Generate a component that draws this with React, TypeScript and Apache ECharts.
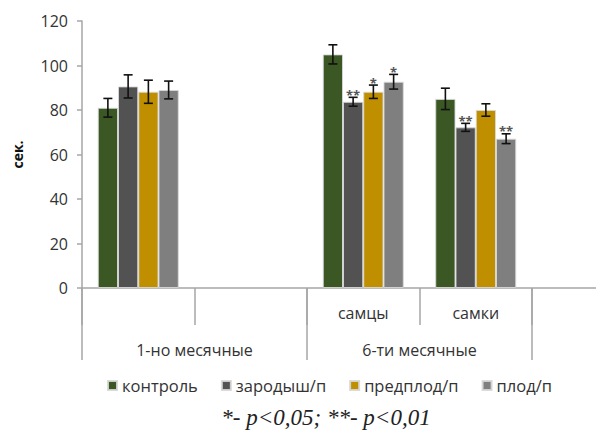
import React, { useEffect, useRef } from "react";
import * as echarts from "echarts";

// Age groups / sexes along the x axis (the fifth slot stays empty)
const categories = ["", "", "самцы", "самки", ""];
const groupLabels = ["", "1-но месячные", "", "6-ти месячные", "", ""];

const seriesNames = ["контроль", "зародыш/п", "предплод/п", "плод/п"];
const seriesColors = ["#3a5724", "#525252", "#bf8f00", "#7f7f7f"];

// Mean time, sec.
const control = [81, null, 105, 85, null];
const embryo = [90.6, null, 83.7, 72.2, null];
const prefetal = [88.2, null, 88.2, 80, null];
const fetal = [89, null, 92.7, 67.1, null];

// Error bar half-widths
const controlErr = [4.2, null, 4.3, 4.8, null];
const embryoErr = [5.2, null, 2, 1.8, null];
const prefetalErr = [5.2, null, 3, 2.8, null];
const fetalErr = [4, null, 3.3, 2.2, null];

// Significance marks
const controlSig = ["", "", "", "", ""];
const embryoSig = ["", "", "**", "**", ""];
const prefetalSig = ["", "", "*", "", ""];
const fetalSig = ["", "", "*", "**", ""];

const values = [control, embryo, prefetal, fetal];
const errors = [controlErr, embryoErr, prefetalErr, fetalErr];
const marks = [controlSig, embryoSig, prefetalSig, fetalSig];

const FONT = "Open Sans";
const TEXT = "#333";
const AXIS = "#a6a6a6";
const CAT_GAP = 0.28;

// The plot area runs past the right edge of the visible frame,
// so the last (empty) category is only partly shown.
const VIEW_W = 596;
const VIEW_H = 431;
const CANVAS_W = 650;

export default function App() {
  const ref = useRef<HTMLDivElement>(null);

  useEffect(() => {
    if (!ref.current) return;
    const chart = echarts.init(ref.current, null, { renderer: "svg" });

    const barSeries = values.map((vals, s) => ({
      type: "bar",
      name: seriesNames[s],
      xAxisIndex: 0,
      data: vals,
      barGap: "0%",
      barCategoryGap: `${CAT_GAP * 100}%`,
      itemStyle: {
        color: seriesColors[s],
        borderColor: "rgba(215,215,215,0.9)",
        borderWidth: 1,
      },
    }));

    const errSeries = values.map((vals, s) => ({
      type: "custom",
      name: seriesNames[s] + "-err",
      xAxisIndex: 0,
      z: 5,
      data: vals
        .map((v, i) => (v == null ? null : [i, v, errors[s][i]]))
        .filter((d) => d !== null),
      renderItem: (params: any, api: any) => {
        const idx = api.value(0);
        const v = api.value(1);
        const e = api.value(2);
        const sig = marks[s][idx];
        const band = api.size([1, 0])[0];
        const bw = (band * (1 - CAT_GAP)) / 4;
        const center = api.coord([idx, v]);
        const x = center[0] - (band * (1 - CAT_GAP)) / 2 + bw * (s + 0.5);
        const top = api.coord([idx, v + e])[1];
        const bot = api.coord([idx, v - e])[1];
        const cap = 4.5;
        const stroke = { stroke: "#111", lineWidth: 1.6 };
        const children: any[] = [
          { type: "line", shape: { x1: x, y1: top, x2: x, y2: bot }, style: stroke },
          { type: "line", shape: { x1: x - cap, y1: top, x2: x + cap, y2: top }, style: stroke },
          { type: "line", shape: { x1: x - cap, y1: bot, x2: x + cap, y2: bot }, style: stroke },
        ];
        if (sig) {
          children.push({
            type: "text",
            style: {
              text: sig,
              x,
              y: top + 4,
              align: "center",
              verticalAlign: "bottom",
              fill: "#555",
              font: `bold 13px "${FONT}"`,
            },
          });
        }
        return { type: "group", children };
      },
    }));

    chart.setOption({
      animation: false,
      grid: { left: 82, top: 21, bottom: VIEW_H - 288, right: CANVAS_W - 644.5, containLabel: false },
      legend: {
        data: seriesNames,
        left: 102,
        top: 372,
        itemWidth: 9,
        itemHeight: 9,
        itemGap: 23,
        icon: "rect",
        textStyle: { fontFamily: FONT, fontSize: 16.5, color: TEXT },
      },
      xAxis: [
        {
          type: "category",
          data: categories,
          position: "bottom",
          axisLine: { show: true, lineStyle: { color: AXIS, width: 1.5 } },
          axisTick: { show: true, interval: 0, length: 37, lineStyle: { color: AXIS, width: 1.5 } },
          axisLabel: { interval: 0, margin: 17, fontFamily: FONT, fontSize: 16, color: TEXT },
        },
        {
          type: "category",
          data: groupLabels,
          boundaryGap: false,
          position: "bottom",
          offset: 0,
          axisLine: { show: false },
          axisTick: {
            show: true,
            interval: (i: number) => i % 2 === 0,
            length: 72,
            lineStyle: { color: AXIS, width: 1.5 },
          },
          axisLabel: { interval: 0, margin: 54, fontFamily: FONT, fontSize: 16, color: TEXT },
        },
      ],
      yAxis: {
        type: "value",
        min: 0,
        max: 120,
        interval: 20,
        name: "сек.",
        nameLocation: "middle",
        nameRotate: 90,
        nameGap: 58,
        nameTextStyle: { fontFamily: FONT, fontSize: 14, fontWeight: "bold", color: "#111" },
        axisLine: { show: true, lineStyle: { color: AXIS, width: 1.5 } },
        axisTick: { show: true, length: 5, lineStyle: { color: AXIS, width: 1.5 } },
        axisLabel: { margin: 14, fontFamily: FONT, fontSize: 16, color: TEXT },
        splitLine: { show: false },
      },
      graphic: [
        {
          type: "text",
          x: 326,
          y: 417,
          style: {
            text: "*- p<0,05; **- p<0,01",
            font: 'italic 23px "Liberation Serif"',
            fill: "#222",
            align: "center",
            verticalAlign: "middle",
          },
        },
      ],
      series: [...barSeries, ...errSeries],
    });

    return () => chart.dispose();
  }, []);

  return (
    <div
      style={{
        position: "absolute",
        left: 0,
        top: 0,
        width: VIEW_W,
        height: VIEW_H,
        overflow: "hidden",
      }}
    >
      <div ref={ref} style={{ width: CANVAS_W, height: VIEW_H }} />
    </div>
  );
}
